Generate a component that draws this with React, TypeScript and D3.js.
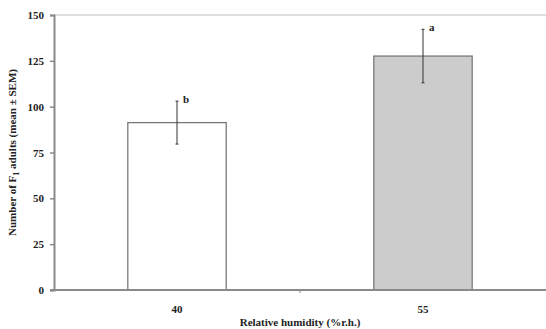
import React, { useEffect, useRef } from "react";
import * as d3 from "d3";

const categories = ["40", "55"];
const means = [91.3, 127.6];
const sems = [11.7, 14.6];
const letters = ["b", "a"];
const fills = ["#ffffff", "#cccccc"];
const yTicks = [0, 25, 50, 75, 100, 125, 150];

export default function App() {
  const ref = useRef<SVGSVGElement>(null);

  useEffect(() => {
    const width = 546;
    const height = 329;
    const margin = { top: 15, right: 0, bottom: 39, left: 54 };
    const font = "'Liberation Serif', 'Times New Roman', serif";

    const svg = d3.select(ref.current);
    svg.selectAll("*").remove();

    const x = d3.scaleBand().domain(categories).range([margin.left, width - margin.right]).paddingInner(0.6).paddingOuter(0.3);
    const y = d3.scaleLinear().domain([0, 150]).range([height - margin.bottom, margin.top]);

    // top gridline
    svg.append("line")
      .attr("x1", margin.left).attr("x2", width)
      .attr("y1", y(150)).attr("y2", y(150))
      .attr("stroke", "#d4d4d4").attr("stroke-width", 1.5);

    // bars
    svg.selectAll("rect.bar")
      .data(categories)
      .enter()
      .append("rect")
      .attr("class", "bar")
      .attr("x", d => x(d)!)
      .attr("width", x.bandwidth())
      .attr("y", (d, i) => y(means[i]))
      .attr("height", (d, i) => y(0) - y(means[i]))
      .attr("fill", (d, i) => fills[i])
      .attr("stroke", "#7a7a7a")
      .attr("stroke-width", 1.3);

    // error bars
    const eb = svg.selectAll("g.err").data(categories).enter().append("g");
    eb.append("line")
      .attr("x1", d => x(d)! + x.bandwidth() / 2)
      .attr("x2", d => x(d)! + x.bandwidth() / 2)
      .attr("y1", (d, i) => y(means[i] - sems[i]))
      .attr("y2", (d, i) => y(means[i] + sems[i]))
      .attr("stroke", "#333").attr("stroke-width", 1);
    [-1, 1].forEach(s => {
      eb.append("line")
        .attr("x1", d => x(d)! + x.bandwidth() / 2 - 1.5)
        .attr("x2", d => x(d)! + x.bandwidth() / 2 + 1.5)
        .attr("y1", (d, i) => y(means[i] + s * sems[i]))
        .attr("y2", (d, i) => y(means[i] + s * sems[i]))
        .attr("stroke", "#333").attr("stroke-width", 1);
    });
    eb.append("text")
      .attr("x", d => x(d)! + x.bandwidth() / 2 + 6)
      .attr("y", (d, i) => y(means[i] + sems[i]) + 2)
      .attr("font-family", font).attr("font-weight", "bold").attr("font-size", 11)
      .attr("fill", "#222")
      .text((d, i) => letters[i]);

    // y axis
    const yAxis = svg.append("g")
      .attr("transform", `translate(${margin.left},0)`)
      .call(d3.axisLeft(y).tickValues(yTicks).tickSize(4).tickPadding(6));
    yAxis.select(".domain").attr("stroke", "#8a8a8a").attr("stroke-width", 2);
    yAxis.selectAll(".tick line").attr("stroke", "#8a8a8a").attr("stroke-width", 1.5);
    yAxis.selectAll("text")
      .attr("font-family", font).attr("font-weight", "bold").attr("font-size", 11).attr("fill", "#222");

    // x axis
    svg.append("line")
      .attr("x1", margin.left - 4).attr("x2", width)
      .attr("y1", y(0)).attr("y2", y(0))
      .attr("stroke", "#8a8a8a").attr("stroke-width", 2);
    const xMid = (margin.left + width) / 2;
    svg.append("line")
      .attr("x1", xMid).attr("x2", xMid)
      .attr("y1", y(0)).attr("y2", y(0) + 3)
      .attr("stroke", "#8a8a8a").attr("stroke-width", 1);
    svg.selectAll("text.xl")
      .data(categories)
      .enter()
      .append("text")
      .attr("class", "xl")
      .attr("x", d => x(d)! + x.bandwidth() / 2)
      .attr("y", y(0) + 23)
      .attr("text-anchor", "middle")
      .attr("font-family", font).attr("font-weight", "bold").attr("font-size", 11).attr("fill", "#222")
      .text(d => d);

    svg.append("text")
      .attr("x", xMid)
      .attr("y", height - 3)
      .attr("text-anchor", "middle")
      .attr("font-family", font).attr("font-weight", "bold").attr("font-size", 11).attr("fill", "#222")
      .text("Relative humidity (%r.h.)");

    const yl = svg.append("text")
      .attr("transform", `translate(16,${(y(0) + y(150)) / 2}) rotate(-90)`)
      .attr("text-anchor", "middle")
      .attr("font-family", font).attr("font-weight", "bold").attr("font-size", 11).attr("fill", "#222");
    yl.append("tspan").text("Number of F");
    yl.append("tspan").attr("font-size", 8).attr("dy", 3).text("1");
    yl.append("tspan").attr("dy", -3).text(" adults (mean \u00b1 SEM)");
  }, []);

  return (
    <svg
      ref={ref}
      width={546}
      height={329}
      style={{ position: "absolute", left: 0, top: 0, background: "#fff" }}
    />
  );
}
